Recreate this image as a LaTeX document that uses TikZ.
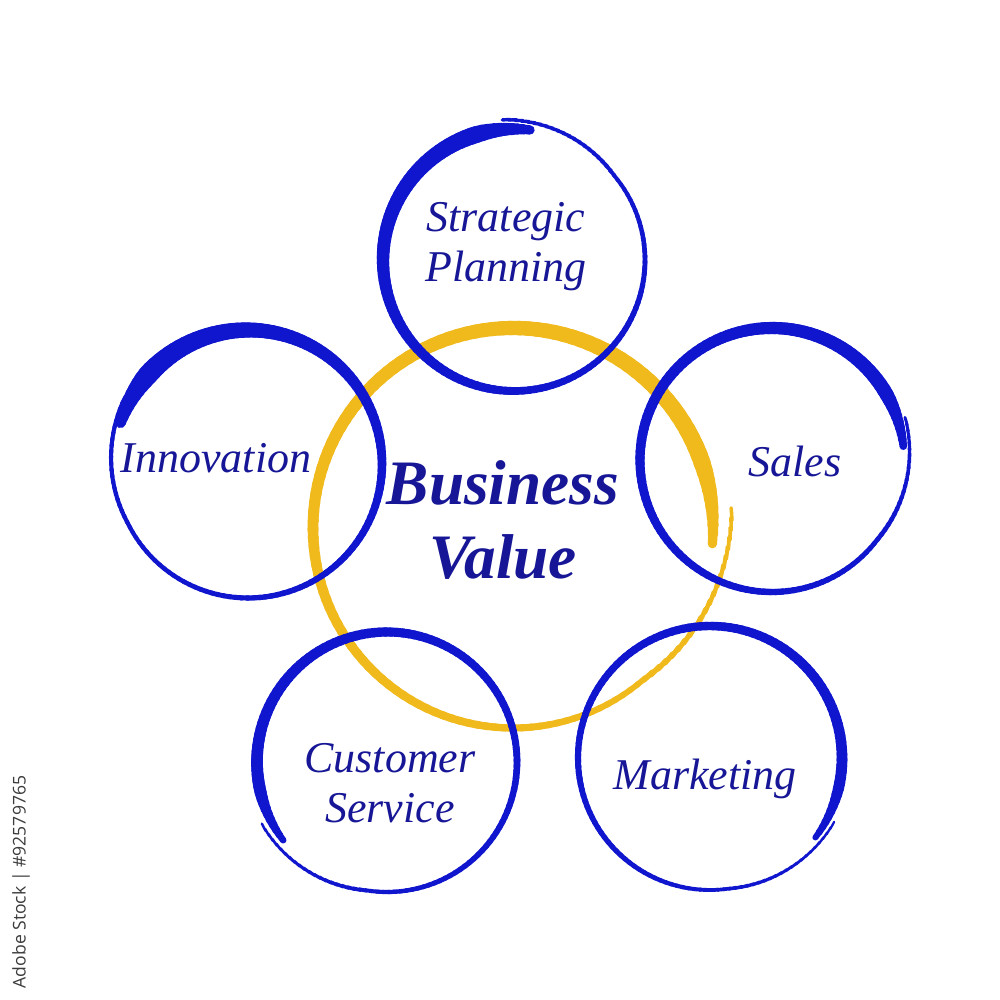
\documentclass[tikz,border=0pt]{standalone}
\usepackage{fontspec}
\setmainfont{Liberation Serif}
\newfontfamily\stockfont{Open Sans}
\definecolor{ringblue}{RGB}{16,22,206}
\definecolor{textblue}{RGB}{22,22,150}
\definecolor{valueyellow}{RGB}{240,185,28}
\definecolor{stockgray}{RGB}{60,60,60}

% brush ring: centre, radius, start angle, sweep, max width (px), outward drift, colour, taper power
\newcommand\brushring[8]{%
  \foreach \k in {0,...,143}{%
    \pgfmathsetmacro\t{\k/144}%
    \pgfmathsetmacro\a{#3+#4*\t}%
    \pgfmathsetmacro\b{#3+#4/144*(\k+1.3)}%
    \pgfmathsetmacro\w{#5*0.2845*(\t<0.06 ? 0.55+7.5*\t : 0.2+0.8*pow((1-\t)/0.94,#8))}%
    \pgfmathsetmacro\r{#2+#6*max(0,(\t-0.85)/0.15)}%
    \draw[#7, line width=\w pt, line cap=round, shift={(#1)}]
        (\a:\r) arc[start angle=\a, end angle=\b, radius=\r];
  }%
}

\begin{document}
\begin{tikzpicture}[x=0.01cm, y=0.01cm,
label/.style = {text=textblue, font=\fontsize{12.5pt}{14.2pt}\selectfont\itshape,
                align=center, inner sep=0pt},
title/.style = {text=textblue, font=\fontsize{18pt}{21.3pt}\selectfont\bfseries\itshape,
                align=center, inner sep=0pt}
                ]
\fill[white] (0,0) rectangle (1000,1000);
\useasboundingbox (0,0) rectangle (1000,1000);
%
\coordinate (c-value)  at (513,472);
\coordinate (c-strat)  at (514,740);
\coordinate (c-innov)  at (248,536);
\coordinate (c-sales)  at (772,540);
\coordinate (c-cust)   at (387,238);
\coordinate (c-market) at (710,242);
%
\brushring{c-value}{200}{-4.5}{369}{17}{20}{valueyellow}{1}
\brushring{c-strat}{131}{83}{371}{17}{10}{ringblue}{1.8}
\brushring{c-innov}{134}{162}{-370}{20}{6}{ringblue}{2.5}
\brushring{c-sales}{132}{6}{371}{14}{8}{ringblue}{1}
\brushring{c-cust}{130}{217}{-370}{12}{10}{ringblue}{1}
\brushring{c-market}{132}{-37}{369}{11}{8}{ringblue}{1}
%
\node[title] (value)  at (503,480) {Business\\Value};
\node[label] (strat)  at (506,753) {Strategic\\Planning};
\node[label, anchor=base] (innov) at (216,527) {Innovation};
\node[label, anchor=base] (sales) at (795,523) {Sales};
\node[label] (cust)   at (390,217) {Customer\\Service};
\node[label, anchor=base] (market) at (705,210) {Marketing};
%
\node[text=stockgray, font=\stockfont\fontsize{5pt}{6pt}\selectfont,
      rotate=90, inner sep=0pt] (stock) at (21,118) {Adobe Stock | \#92579765};
\end{tikzpicture}
\end{document}
